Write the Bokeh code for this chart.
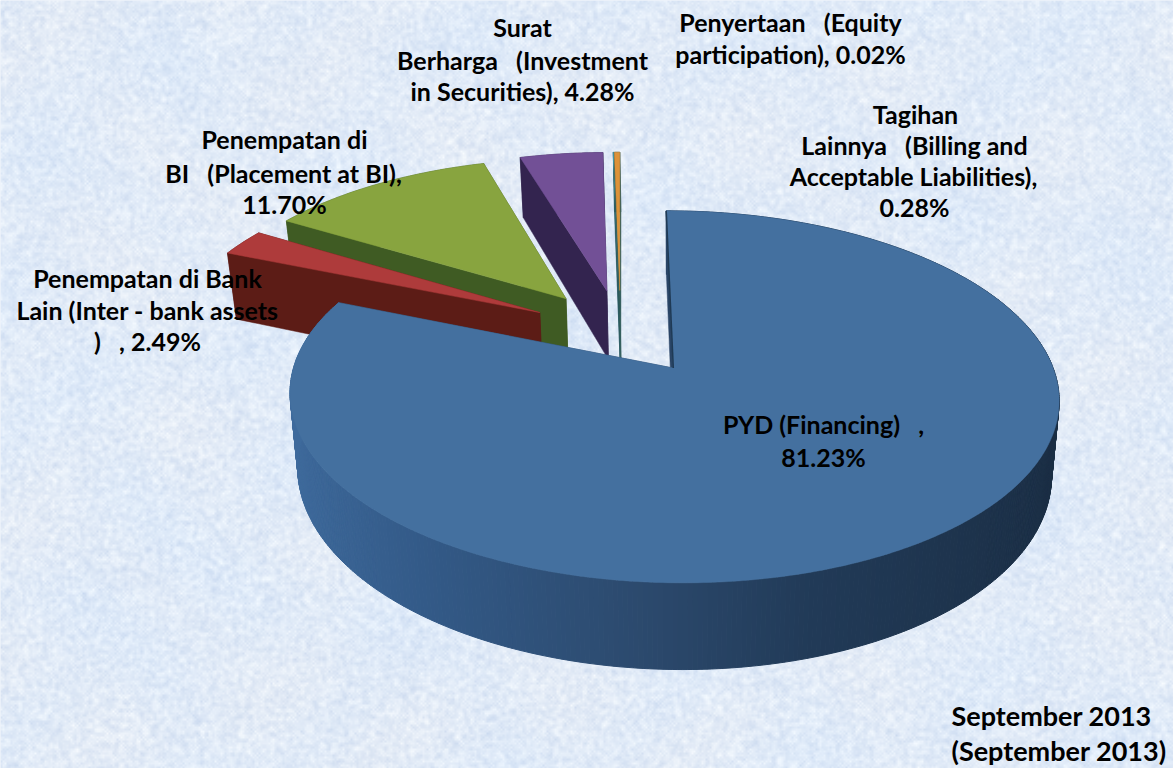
import numpy as np
from bokeh.plotting import figure
from bokeh.embed import file_html
from bokeh.resources import INLINE
from bokeh.core.properties import value

# ---- data
categories = ["PYD (Financing)", "Penempatan di Bank Lain (Inter - bank assets)",
              "Penempatan di BI (Placement at BI)", "Surat Berharga (Investment in Securities)",
              "Penyertaan (Equity participation)", "Tagihan Lainnya (Billing and Acceptable Liabilities)"]
shares = [81.23, 2.49, 11.70, 4.28, 0.02, 0.28]
top_colors = ["#44709f", "#ae3b3b", "#88a43f", "#725096", "#4aacc5", "#dd9239"]
side_colors = ["#2a4566", "#5c1c16", "#3f5b23", "#33244f", "#2b5a62", "#2e5a58"]

NB = "\u00a0\u00a0\u00a0"
label_lines = [
    ("Surat", 522, 26), ("Berharga" + NB + "(Investment", 522, 59), ("in Securities), 4.28%", 522, 90),
    ("Penyertaan" + NB + "(Equity", 790, 21), ("participation), 0.02%", 790, 53),
    ("Tagihan", 915, 113), ("Lainnya" + NB + "(Billing and", 914, 144),
    ("Acceptable Liabilities),", 913, 175), ("0.28%", 914, 206),
    ("Penempatan di", 284, 138), ("BI" + NB + "(Placement at BI),", 283, 172), ("11.70%", 284, 203),
    ("Penempatan di Bank", 147, 277), ("Lain (Inter - bank assets", 147, 309), (")" + NB + ", 2.49%", 147, 340),
    ("PYD (Financing)" + NB + ",", 823, 423), ("81.23%", 823, 456),
]
note_lines = [("September 2013", 951, 715), ("(September 2013)", 951, 750)]

# ---- projection of the tilted pie
XC, YC = 620.0, 331.0
RX, RY, PERSP = 368.0, 170.4, 0.15
EXPLODE, DEPTH, SHRINK, SHRINK_X = 0.25, 71.0, 0.98, 675.0

def top_xy(u, v):
    w = 1 + PERSP * v
    return XC + RX * u / w, YC - RY * v / w

def bottom_xy(u, v):
    x, y = top_xy(u, v)
    return SHRINK_X + (x - SHRINK_X) * SHRINK, y + DEPTH / (1 + PERSP * v)

def hex_rgb(h):
    return np.array([int(h[i:i + 2], 16) for i in (1, 3, 5)], float)

def mix(stops, t):
    xs = [s[0] for s in stops]
    cols = np.array([hex_rgb(s[1]) for s in stops])
    c = [np.interp(t, xs, cols[:, k]) for k in range(3)]
    return "#%02x%02x%02x" % tuple(int(round(a)) for a in c)

p = figure(width=1173, height=768, x_range=(0, 1173), y_range=(768, 0),
           output_backend="svg", toolbar_location=None, min_border=0,
           background_fill_color="#dfeaf8", border_fill_color="#dfeaf8")
p.axis.visible = False
p.grid.visible = False
p.outline_line_color = None

# ---- background paper texture
H, W = 384, 587
yy, xx = np.mgrid[0:H, 0:W]
h = np.modf(np.abs(np.sin(xx * 12.9898 + yy * 78.233)) * 43758.5453)[0]
def blur(a, n):
    for _ in range(n):
        a = (a + np.roll(a, 1, 0) + np.roll(a, -1, 0) + np.roll(a, 1, 1) + np.roll(a, -1, 1)) / 5
    return a
fine = blur(h, 1) - 0.5
coarse = np.sin(xx / 23.0 + 1.3 * np.sin(yy / 31.0)) * np.sin(yy / 19.0 + 1.1 * np.sin(xx / 27.0))
r = 225 + 46 * fine + 3 * coarse
g = 235 + 36 * fine + 1 * coarse
b = 248 + 18 * fine - 1 * coarse
img = np.zeros((H, W), dtype=np.uint32)
view = img.view(dtype=np.uint8).reshape((H, W, 4))
view[..., 0] = np.clip(r, 0, 255)
view[..., 1] = np.clip(g, 0, 255)
view[..., 2] = np.clip(b, 0, 255)
view[..., 3] = 255
p.image_rgba(image=[img], x=0, y=0, dw=1173, dh=768)

# ---- pie slices
fractions = np.array(shares) / sum(shares)
ends = np.cumsum(fractions) * 2 * np.pi
starts = ends - fractions * 2 * np.pi
wall_stops = [(-1.0, "#3f6b9d"), (-0.6, "#335a88"), (-0.1, "#2c4a6e"), (0.3, "#213a57"), (1.0, "#1a2d43")]

for i in [4, 5, 3, 2, 1, 0]:
    a0, a1 = starts[i], ends[i]
    mid = (a0 + a1) / 2
    cu, cv = EXPLODE * np.sin(mid), EXPLODE * np.cos(mid)
    ang = np.linspace(a0, a1, max(4, int((a1 - a0) * 90)))
    us, vs = cu + np.sin(ang), cv + np.cos(ang)
    tx, ty = top_xy(us, vs)
    bx, by = bottom_xy(us, vs)
    ax, ay = top_xy(cu, cv)
    abx, aby = bottom_xy(cu, cv)
    p.patch([ax, tx[-1], bx[-1], abx], [ay, ty[-1], by[-1], aby],
            fill_color=side_colors[i], line_color=side_colors[i], line_width=0.5)
    if i == 0:
        seg_xs, seg_ys, seg_c = [], [], []
        for k in range(len(ang) - 1):
            seg_xs.append([tx[k], tx[k + 1], bx[k + 1], bx[k]])
            seg_ys.append([ty[k], ty[k + 1], by[k + 1], by[k]])
            seg_c.append(mix(wall_stops, np.sin(ang[k])))
        p.patches(seg_xs, seg_ys, fill_color=seg_c, line_color=seg_c, line_width=1)
    else:
        p.patch(list(tx) + list(bx[::-1]), list(ty) + list(by[::-1]),
                fill_color=side_colors[i], line_color=side_colors[i], line_width=0.5)
    p.patch([ax, tx[0], bx[0], abx], [ay, ty[0], by[0], aby],
            fill_color=side_colors[i], line_color=side_colors[i], line_width=0.5)
    p.patch([ax] + list(tx), [ay] + list(ty), fill_color=top_colors[i],
            line_color=top_colors[i], line_width=0.5)
    if i == 0:
        p.line([ax, tx[0]], [ay, ty[0]], line_color="#1f3a55", line_width=1.5)

# ---- labels
p.text([l[1] for l in label_lines], [l[2] for l in label_lines], text=[l[0] for l in label_lines],
       text_font=value("Lato"), text_font_style="bold", text_font_size="25px",
       text_align="center", text_baseline="middle", text_color="#000000")
p.text([l[1] for l in note_lines], [l[2] for l in note_lines], text=[l[0] for l in note_lines],
       text_font=value("Lato"), text_font_style="bold", text_font_size="27px",
       text_align="left", text_baseline="middle", text_color="#000000")

open("out.html", "w").write(file_html(p, INLINE))
